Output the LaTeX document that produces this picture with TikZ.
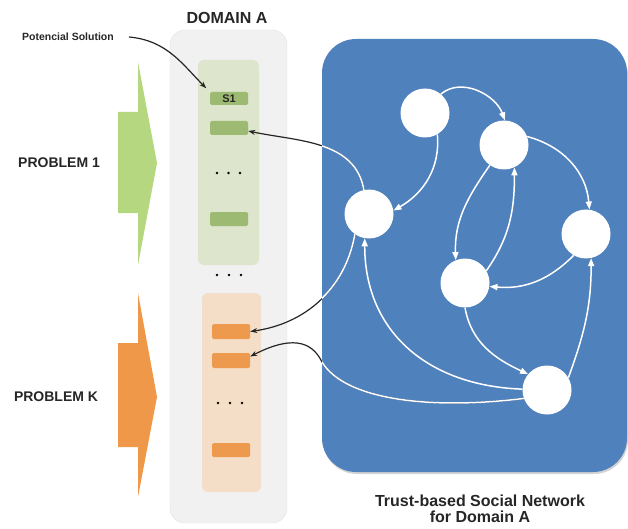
\documentclass[tikz,border=0pt]{standalone}
\usepackage{fontspec}
\setmainfont{Liberation Sans}
\usetikzlibrary{arrows.meta,shadows}
\definecolor{blueBG}{HTML}{4F81BD}
\definecolor{domFill}{HTML}{F1F1F1}
\definecolor{domDraw}{HTML}{E2E2E2}
\definecolor{grArrow}{HTML}{B5D77F}
\definecolor{grPanel}{HTML}{DDE5CC}
\definecolor{grBox}{HTML}{9DBA72}
\definecolor{orArrow}{HTML}{F0984A}
\definecolor{orPanel}{HTML}{F5DEC7}
\definecolor{orBox}{HTML}{EE9A4E}
\definecolor{txt}{HTML}{262626}
\begin{document}
\begin{tikzpicture}[x=1pt,y=1pt,
  lbl/.style={font=\bfseries\fontsize{14}{16}\selectfont, text=txt, inner sep=0pt},
  panel/.style={rounded corners=6pt, inner sep=0pt},
  solbox/.style={rounded corners=1.5pt, minimum width=38pt, inner sep=0pt},
  peer/.style={circle, fill=white, minimum size=49pt, inner sep=0pt},
  net/.style={draw=white, line width=1.5pt, -{Triangle[length=8pt,width=6pt]}},
  ptr/.style={draw=black!85, line width=1.2pt, -{Stealth[length=7pt,width=5pt]}},
  whiteover/.style={draw=white, line width=1.5pt},
  dotsty/.style={fill=black, circle, inner sep=0pt, minimum size=2.6pt}
]
\useasboundingbox (0,0) rectangle (628,-529);

% domain panel
\node[draw=domDraw, fill=domFill, rounded corners=15pt, minimum width=117pt, minimum height=493pt, inner sep=0pt] (dom) at (228.5,-276.5) {};
\node[font=\bfseries\fontsize{16}{18}\selectfont, text=txt] (domlbl) at (227,-18) {DOMAIN A};

% problem arrows
\fill[grArrow] (118,-112) -- (138,-112) -- (138,-62) -- (157,-163) -- (138,-265) -- (138,-213) -- (118,-213) -- cycle;
\fill[orArrow] (118,-343) -- (138,-343) -- (138,-293) -- (157,-397) -- (138,-497) -- (138,-447) -- (118,-447) -- cycle;
\node[lbl] (p1) at (59,-163) {PROBLEM 1};
\node[lbl] (pk) at (56,-397) {PROBLEM K};

% green panel
\node[panel, fill=grPanel, minimum width=61pt, minimum height=205pt] (gp) at (228.5,-162.5) {};
\node[solbox, fill=grBox, minimum height=13pt, font=\bfseries\fontsize{11}{12}\selectfont, text=txt] (s1) at (229,-98.5) {S1};
\node[solbox, fill=grBox, minimum height=14pt] (g2) at (229,-128) {};
\node[solbox, fill=grBox, minimum height=14pt] (g3) at (229,-219) {};
\node[dotsty] (gd1) at (217,-173) {};
\node[dotsty] (gd2) at (228.5,-173) {};
\node[dotsty] (gd3) at (240,-173) {};

% middle dots
\node[dotsty] (md1) at (217,-275) {};
\node[dotsty] (md2) at (229,-275) {};
\node[dotsty] (md3) at (241,-275) {};

% orange panel
\node[panel, fill=orPanel, minimum width=59pt, minimum height=199pt] (op) at (231.5,-392.5) {};
\node[solbox, fill=orBox, minimum height=15pt] (o1) at (231,-331.5) {};
\node[solbox, fill=orBox, minimum height=15pt] (o2) at (231,-360.5) {};
\node[solbox, fill=orBox, minimum height=14pt] (o3) at (231,-450) {};
\node[dotsty] (od1) at (218,-403) {};
\node[dotsty] (od2) at (230,-403) {};
\node[dotsty] (od3) at (242,-403) {};

% potencial solution
\node[font=\bfseries\fontsize{10.5}{12}\selectfont, text=txt, inner sep=0pt] (ps) at (68,-37) {Potencial Solution};
\draw[ptr, shorten >=5pt] ([xshift=15pt]ps.east) to[out=-5, in=135] (s1.north west);

% social network box
\node[fill=blueBG, rounded corners=34pt, minimum width=305pt, minimum height=433pt, inner sep=0pt,
      drop shadow={shadow xshift=1pt, shadow yshift=-2pt, opacity=0.35}] (sn) at (474.5,-255.5) {};
\node[font=\bfseries\fontsize{16}{16.5}\selectfont, text=txt, align=center, inner sep=0pt, anchor=north] (snlbl) at (480,-494.5) {Trust-based Social Network\\for Domain A};

% peers
\node[peer] (n1) at (425,-113) {};
\node[peer] (n2) at (504,-145) {};
\node[peer] (n3) at (369,-214) {};
\node[peer] (n4) at (586,-234) {};
\node[peer] (n5) at (465,-283) {};
\node[peer] (n6) at (547,-390) {};

% connectors leaving the network (black outside, white inside)
\draw[ptr] (n3.102) to[out=100, in=-12] ([yshift=-3pt]g2.east);
\draw[ptr] (n3.235) to[out=-100, in=8] (o1.east);
\draw[ptr] (n6.200) .. controls (430,-410) and (345,-400) .. (322,-362) .. controls (314,-346) and (298,-332) .. ([yshift=4pt]o2.east);
\begin{scope}
  \clip[rounded corners=34pt] (322,-39) rectangle (627,-472);
  \draw[whiteover] (n3.102) to[out=100, in=-12] ([yshift=-3pt]g2.east);
  \draw[whiteover] (n3.235) to[out=-100, in=8] (o1.east);
  \draw[whiteover] (n6.200) .. controls (430,-410) and (345,-400) .. (322,-362) .. controls (314,-346) and (298,-332) .. ([yshift=4pt]o2.east);
\end{scope}

% network edges
\draw[net] (n1.50) to[out=40, in=110] (n2.88);
\draw[net] (n1.-60) to[out=-85, in=30] (n3.8);
\draw[net] (n2.20) to[out=-15, in=95] (n4.82);
\draw[net] (n2.235) to[out=235, in=92] (n5.112);
\draw[net] (n5.30) to[out=55, in=-90] (n2.-65);
\draw[net] (n4.240) to[out=225, in=-5] (n5.-8);
\draw[net] (n5.-90) to[out=-80, in=155] (n6.140);
\draw[net] (n6.30) to[out=70, in=-90] (n4.-78);
\draw[net] (n6.178) to[out=178, in=-90, looseness=1.1] (n3.-100);
\end{tikzpicture}
\end{document}
